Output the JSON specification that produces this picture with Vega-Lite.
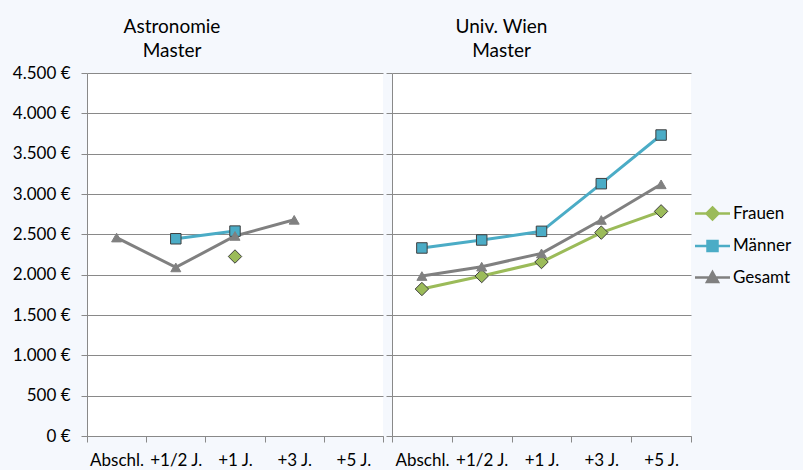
{
  "$schema": "https://vega.github.io/schema/vega-lite/v6.json",
  "background": "#f5f8fd",
  "padding": {"left": 12, "top": 17, "right": 14, "bottom": 2},
  "datasets": {
    "gehalt": [
      {"panel": "Astronomie", "Zeitpunkt": "Abschl.", "Gruppe": "Gesamt", "Wert": 2460},
      {"panel": "Astronomie", "Zeitpunkt": "+1/2 J.", "Gruppe": "Gesamt", "Wert": 2090},
      {"panel": "Astronomie", "Zeitpunkt": "+1 J.", "Gruppe": "Gesamt", "Wert": 2480},
      {"panel": "Astronomie", "Zeitpunkt": "+3 J.", "Gruppe": "Gesamt", "Wert": 2680},
      {"panel": "Astronomie", "Zeitpunkt": "+1/2 J.", "Gruppe": "Männer", "Wert": 2445},
      {"panel": "Astronomie", "Zeitpunkt": "+1 J.", "Gruppe": "Männer", "Wert": 2540},
      {"panel": "Astronomie", "Zeitpunkt": "+1 J.", "Gruppe": "Frauen", "Wert": 2225},
      {"panel": "Wien", "Zeitpunkt": "Abschl.", "Gruppe": "Frauen", "Wert": 1822},
      {"panel": "Wien", "Zeitpunkt": "+1/2 J.", "Gruppe": "Frauen", "Wert": 1983},
      {"panel": "Wien", "Zeitpunkt": "+1 J.", "Gruppe": "Frauen", "Wert": 2157},
      {"panel": "Wien", "Zeitpunkt": "+3 J.", "Gruppe": "Frauen", "Wert": 2521},
      {"panel": "Wien", "Zeitpunkt": "+5 J.", "Gruppe": "Frauen", "Wert": 2785},
      {"panel": "Wien", "Zeitpunkt": "Abschl.", "Gruppe": "Männer", "Wert": 2331},
      {"panel": "Wien", "Zeitpunkt": "+1/2 J.", "Gruppe": "Männer", "Wert": 2430},
      {"panel": "Wien", "Zeitpunkt": "+1 J.", "Gruppe": "Männer", "Wert": 2537},
      {"panel": "Wien", "Zeitpunkt": "+3 J.", "Gruppe": "Männer", "Wert": 3128},
      {"panel": "Wien", "Zeitpunkt": "+5 J.", "Gruppe": "Männer", "Wert": 3731},
      {"panel": "Wien", "Zeitpunkt": "Abschl.", "Gruppe": "Gesamt", "Wert": 1983},
      {"panel": "Wien", "Zeitpunkt": "+1/2 J.", "Gruppe": "Gesamt", "Wert": 2099},
      {"panel": "Wien", "Zeitpunkt": "+1 J.", "Gruppe": "Gesamt", "Wert": 2264},
      {"panel": "Wien", "Zeitpunkt": "+3 J.", "Gruppe": "Gesamt", "Wert": 2678},
      {"panel": "Wien", "Zeitpunkt": "+5 J.", "Gruppe": "Gesamt", "Wert": 3120}
    ]
  },
  "spacing": 1,
  "hconcat": [
    {
      "width": 296,
      "height": 363,
      "title": {"text": ["Astronomie", "Master"], "dx": -63, "offset": 3},
      "data": {"name": "gehalt"},
      "transform": [{"filter": "datum.panel === 'Astronomie'"}],
      "encoding": {
        "x": {
          "field": "Zeitpunkt",
          "type": "ordinal",
          "sort": ["Abschl.", "+1/2 J.", "+1 J.", "+3 J.", "+5 J."],
          "bandPosition": 0.5,
          "scale": {"type": "band", "domain": ["Abschl.", "+1/2 J.", "+1 J.", "+3 J.", "+5 J."], "paddingInner": 0, "paddingOuter": 0},
          "axis": {"title": null, "labelAngle": 0, "tickBand": "extent", "grid": false}
        },
        "y": {
          "field": "Wert",
          "type": "quantitative",
          "scale": {"domain": [0, 4500]},
          "axis": {
            "title": null,
            "values": [0, 500, 1000, 1500, 2000, 2500, 3000, 3500, 4000, 4500],
            "labelExpr": "replace(format(datum.value, ',d'), ',', '.') + ' €'"
          }
        }
      },
      "layer": [
        {
          "mark": {"type": "line", "strokeWidth": 3},
          "encoding": {
            "color": {
              "field": "Gruppe",
              "type": "nominal",
              "scale": {"domain": ["Frauen", "Männer", "Gesamt"], "range": ["#9bbb59", "#4bacc6", "#808080"]},
              "legend": {
                "title": null,
                "orient": "none",
                "legendX": 617,
                "legendY": 132,
                "labelFontSize": 17,
                "labelColor": "black",
                "labelOffset": 12,
                "rowPadding": 10.5,
                "symbolSize": 100,
                "symbolStrokeWidth": 2.5,
                "encode": {
                  "symbols": {
                    "update": {
                      "shape": {"signal": "datum.value === 'Frauen' ? 'M-3.5,0H-1.2M1.2,0H3.5M0,-1.2L1.2,0L0,1.2L-1.2,0Z' : datum.value === 'Männer' ? 'M-3.5,0H-1M1,0H3.5M-1,-1H1V1H-1Z' : 'M-3.5,0H3.5M0,-1.1L1.1,0.9H-1.1Z'"},
                      "fill": {"signal": "datum.value === 'Frauen' ? '#9bbb59' : datum.value === 'Männer' ? '#4bacc6' : '#808080'"},
                      "stroke": {"signal": "datum.value === 'Frauen' ? '#9bbb59' : datum.value === 'Männer' ? '#4bacc6' : '#808080'"},
                      "opacity": {"value": 1},
                      "fillOpacity": {"value": 1}
                    }
                  }
                }
              }
            }
          }
        },
        {
          "transform": [{"filter": "datum.Gruppe === 'Frauen'"}],
          "mark": {"type": "point", "shape": "diamond", "filled": true, "opacity": 1, "fill": "#9bbb59", "stroke": "#3f3f3f", "strokeWidth": 1, "size": 180}
        },
        {
          "transform": [{"filter": "datum.Gruppe === 'Männer'"}],
          "mark": {"type": "point", "shape": "square", "filled": true, "opacity": 1, "fill": "#4bacc6", "stroke": "#3f3f3f", "strokeWidth": 1, "size": 110}
        },
        {
          "transform": [{"filter": "datum.Gruppe === 'Gesamt'"}],
          "mark": {"type": "point", "shape": "triangle-up", "filled": true, "opacity": 1, "fill": "#808080", "stroke": "#808080", "strokeWidth": 1, "size": 100}
        }
      ]
    },
    {
      "width": 299,
      "height": 363,
      "title": {"text": ["Univ. Wien", "Master"], "dx": -40, "offset": 12},
      "data": {"name": "gehalt"},
      "transform": [{"filter": "datum.panel === 'Wien'"}],
      "encoding": {
        "x": {
          "field": "Zeitpunkt",
          "type": "ordinal",
          "sort": ["Abschl.", "+1/2 J.", "+1 J.", "+3 J.", "+5 J."],
          "bandPosition": 0.5,
          "scale": {"type": "band", "domain": ["Abschl.", "+1/2 J.", "+1 J.", "+3 J.", "+5 J."], "paddingInner": 0, "paddingOuter": 0},
          "axis": {"title": null, "labelAngle": 0, "tickBand": "extent", "grid": false}
        },
        "y": {
          "field": "Wert",
          "type": "quantitative",
          "scale": {"domain": [0, 4500]},
          "axis": {
            "title": null,
            "labels": false,
            "values": [0, 500, 1000, 1500, 2000, 2500, 3000, 3500, 4000, 4500]
          }
        }
      },
      "layer": [
        {
          "mark": {"type": "line", "strokeWidth": 3},
          "encoding": {
            "color": {
              "field": "Gruppe",
              "type": "nominal",
              "scale": {"domain": ["Frauen", "Männer", "Gesamt"], "range": ["#9bbb59", "#4bacc6", "#808080"]}
            }
          }
        },
        {
          "transform": [{"filter": "datum.Gruppe === 'Frauen'"}],
          "mark": {"type": "point", "shape": "diamond", "filled": true, "opacity": 1, "fill": "#9bbb59", "stroke": "#3f3f3f", "strokeWidth": 1, "size": 180}
        },
        {
          "transform": [{"filter": "datum.Gruppe === 'Männer'"}],
          "mark": {"type": "point", "shape": "square", "filled": true, "opacity": 1, "fill": "#4bacc6", "stroke": "#3f3f3f", "strokeWidth": 1, "size": 110}
        },
        {
          "transform": [{"filter": "datum.Gruppe === 'Gesamt'"}],
          "mark": {"type": "point", "shape": "triangle-up", "filled": true, "opacity": 1, "fill": "#808080", "stroke": "#808080", "strokeWidth": 1, "size": 100}
        }
      ]
    }
  ],
  "config": {
    "font": "Lato",
    "view": {"stroke": null, "fill": "white"},
    "title": {"fontSize": 19, "fontWeight": "normal", "color": "black", "lineHeight": 24, "anchor": "middle"},
    "axis": {
      "domainColor": "#898989",
      "tickColor": "#898989",
      "gridColor": "#898989",
      "tickSize": 6,
      "labelFontSize": 17,
      "labelColor": "black",
      "labelPadding": 10,
      "domainWidth": 1,
      "gridWidth": 1
    },
    "axisY": {"grid": true, "labelPadding": 11}
  }
}
